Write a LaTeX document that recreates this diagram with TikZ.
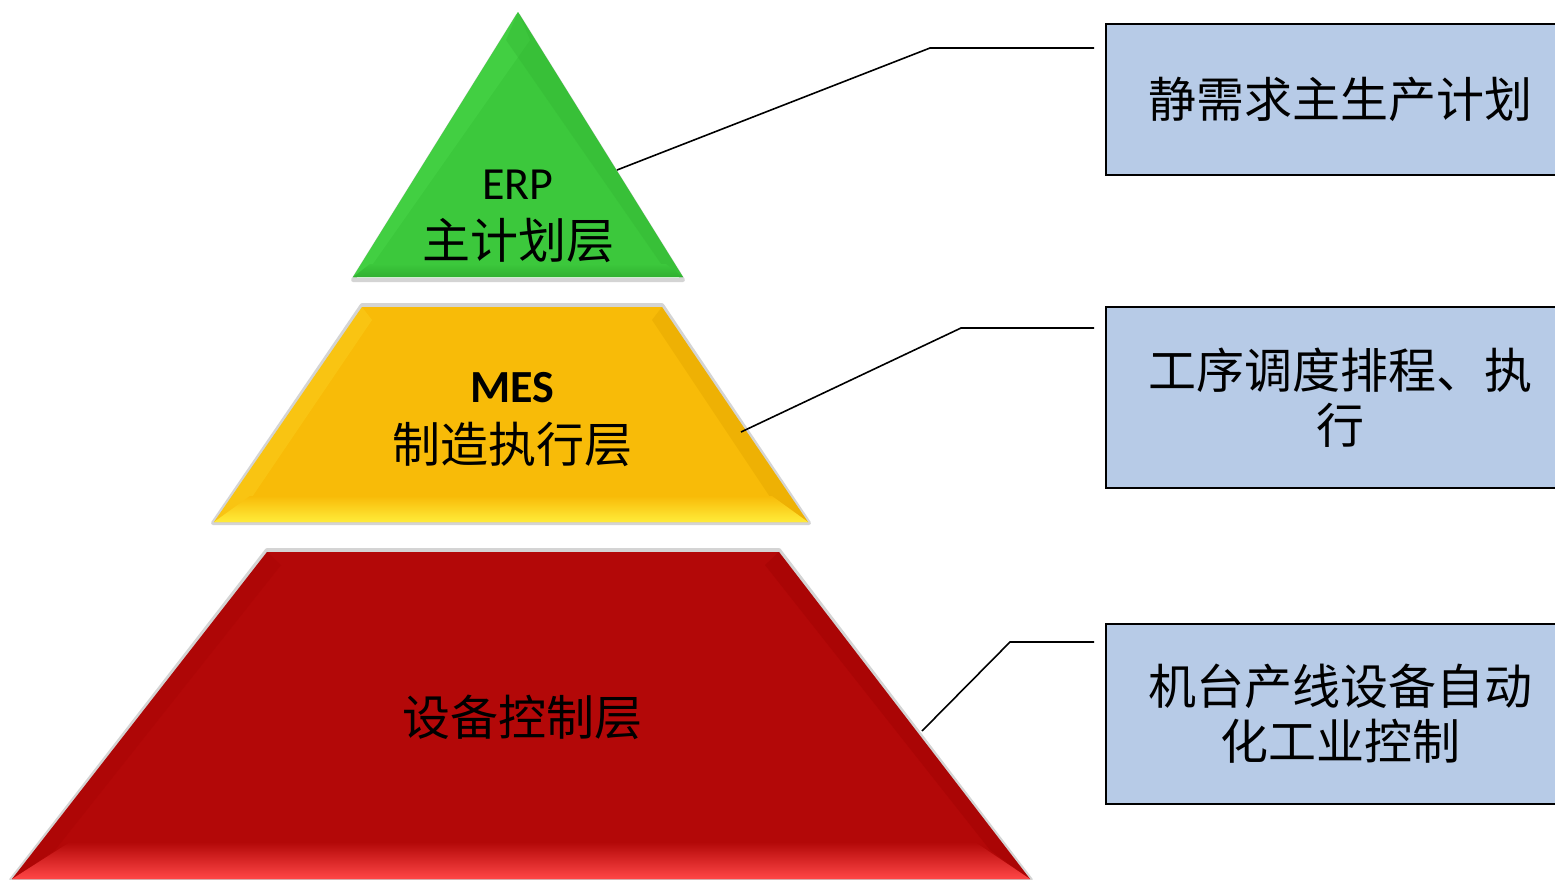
\documentclass[tikz,border=0pt]{standalone}
\usepackage{fontspec}
\setmainfont{Carlito}
\newfontfamily\cjk{Noto Sans CJK SC}
\definecolor{erpgreen}{HTML}{3CC83C}
\definecolor{erpgreenlt}{HTML}{4AD84A}
\definecolor{erpgreendk}{HTML}{30B030}
\definecolor{mesyel}{HTML}{F8BB08}
\definecolor{mesyellt}{HTML}{FFEC3A}
\definecolor{mesyeldk}{HTML}{E2A600}
\definecolor{devred}{HTML}{B30808}
\definecolor{devredlt}{HTML}{FF4646}
\definecolor{devreddk}{HTML}{9A0000}
\definecolor{boxblue}{HTML}{B7CBE7}
\tikzset{
  halo/.style={draw=black!55, line width=4pt, opacity=0.3, line join=round},
  layertext/.style={align=center, text=black, inner sep=0pt},
  infobox/.style={draw=black, line width=1.6pt, fill=boxblue, minimum width=468pt, align=center, inner sep=0pt},
  leader/.style={draw=black, line width=1.6pt},
  bigfont/.style={font=\fontsize{48}{55}\selectfont},
  latinfont/.style={font=\fontsize{46}{56}\selectfont}
}
\begin{document}
\begin{tikzpicture}[x=1pt,y=-1pt]
\clip (0,0) rectangle (1555,879);
\fill[white] (0,0) rectangle (1555,879);
% ---------- ERP triangle
\draw[halo] (518,15) -- (683,280) -- (353,280) -- cycle;
\fill[erpgreen] (518,12) -- (683,277) -- (353,277) -- cycle;
\fill[erpgreenlt, opacity=0.45] (518,12) -- (530,40) -- (370,268) -- (353,277) -- cycle;
\fill[erpgreendk, opacity=0.3] (518,12) -- (683,277) -- (664,268) -- (506,40) -- cycle;
\shade[top color=erpgreen, bottom color=erpgreendk] (370,264) -- (666,264) -- (683,277) -- (353,277) -- cycle;
\node[layertext, latinfont] (erp) at (518,185) {ERP};
\node[layertext, bigfont] (erpc) at (518,240) {\cjk 主计划层};
% ---------- MES trapezoid
\draw[halo] (362,305) -- (662,305) -- (809,523) -- (213,523) -- cycle;
\fill[mesyel] (362,307) -- (662,307) -- (808,522) -- (214,522) -- cycle;
\fill[mesyellt, opacity=0.2] (362,307) -- (372,320) -- (250,500) -- (214,522) -- cycle;
\fill[mesyeldk, opacity=0.45] (662,307) -- (808,522) -- (772,500) -- (652,320) -- cycle;
\shade[top color=mesyel, bottom color=mesyellt] (250,496) -- (772,496) -- (808,522) -- (214,522) -- cycle;
\node[layertext, latinfont] (mes) at (512,388) {\textbf{MES}};
\node[layertext, bigfont] (mesc) at (512,444) {\cjk 制造执行层};
% ---------- Device control trapezoid
\draw[halo] (267,550) -- (779,550) -- (1031,880) -- (11,880) -- cycle;
\fill[devred] (267,552) -- (779,552) -- (1030,879) -- (12,879) -- cycle;
\fill[devreddk, opacity=0.35] (779,552) -- (1030,879) -- (990,850) -- (765,565) -- cycle;
\fill[devreddk, opacity=0.2] (267,552) -- (281,565) -- (55,850) -- (12,879) -- cycle;
\shade[top color=devred, bottom color=devredlt] (70,842) -- (975,842) -- (1030,879) -- (12,879) -- cycle;
\node[layertext, bigfont] (dev) at (522,717) {\cjk 设备控制层};
% ---------- Info boxes
\node[infobox, minimum height=151pt, bigfont] (b1) at (1340,99.5) {\cjk 静需求主生产计划};
\node[infobox, minimum height=181pt, bigfont] (b2) at (1340,397.5) {\cjk 工序调度排程、执\\\cjk 行};
\node[infobox, minimum height=180pt, bigfont] (b3) at (1340,714) {\cjk 机台产线设备自动\\\cjk 化工业控制};
% ---------- Leaders
\coordinate (s1) at (617,170);
\coordinate (k1) at (930,48);
\coordinate (e1) at (1094,48);
\coordinate (s2) at (741,432);
\coordinate (k2) at (961,328);
\coordinate (e2) at (1094,328);
\coordinate (s3) at (922,731);
\coordinate (k3) at (1010,642);
\coordinate (e3) at (1094,642);
\draw[leader] (s1) -- (k1) -- (e1);
\draw[leader] (s2) -- (k2) -- (e2);
\draw[leader] (s3) -- (k3) -- (e3);
\end{tikzpicture}
\end{document}
